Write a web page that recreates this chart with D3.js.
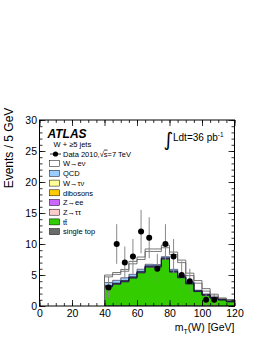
<!DOCTYPE html>
<html><head><meta charset="utf-8">
<script src="https://cdn.jsdelivr.net/npm/d3@7"></script>
<style>
html,body{margin:0;padding:0;background:#fff;}
svg{display:block;font-family:"Liberation Sans",Arial,Helvetica,sans-serif;}
</style></head>
<body>
<svg id="c" width="266" height="344"></svg>
<script>
// ---- data ----
const binLows = [40,45,50,55,60,65,70,75,80,85,90,95,100,105,110,115];
const binWidth = 5;
const dataCounts = [3,10,7,8,12,11,6,10,8,5,4,0,1,1,0,0];
const dataErr    = [1.7,3.2,2.6,2.8,3.5,3.3,2.4,3.2,2.8,2.2,2.0,0,1.0,1.0,0,0];
const singleTop = [0.05,0.05,0.05,0.05,0.05,0.05,0.05,0.05,0.05,0.05,0.05,0.03,0.03,0.02,0.02,0.02];
const ttbar     = [3.05,3.45,3.85,4.45,5.3,6.2,6.2,7.5,5.4,4.5,3.5,2.3,1.7,1.25,0.95,0.65];
const ztautau   = [0.03,0.03,0.03,0.03,0.03,0.03,0.03,0.03,0.03,0.03,0.03,0.02,0.02,0.02,0.02,0.02];
const zee       = [0.08,0.08,0.1,0.1,0.12,0.12,0.12,0.1,0.1,0.08,0.06,0.05,0.04,0.03,0.02,0.02];
const dibosons  = [0.03,0.03,0.03,0.03,0.03,0.03,0.03,0.03,0.03,0.03,0.03,0.02,0.02,0.02,0.02,0.02];
const wtaunu    = [0.05,0.05,0.05,0.05,0.05,0.05,0.05,0.05,0.05,0.05,0.05,0.03,0.03,0.02,0.02,0.02];
const qcd       = [0.5,0.45,0.45,0.4,0.35,0.25,0.2,0.2,0.25,0.2,0.15,0.1,0.1,0.05,0.05,0.05];
const wenu      = [0.91,0.96,1.04,1.69,1.57,2.07,2.12,1.44,2.39,2.06,1.03,1.13,0.46,0.19,0.05,0.1];
const mcTotal   = [5.0,5.4,5.9,7.2,7.9,9.2,9.2,9.8,8.7,7.4,5.3,4.1,2.8,1.9,1.3,1.05];
const xTicks = [0,20,40,60,80,100,120];
const yTicks = [0,5,10,15,20,25,30];

const seriesKeys   = ["singleTop","ttbar","ztautau","zee","dibosons","wtaunu","qcd","wenu"];
const seriesArrays = [singleTop, ttbar, ztautau, zee, dibosons, wtaunu, qcd, wenu];
const seriesColors = ["#6b6b6b","#33cc00","#ffcccc","#cc66ff","#ffcc00","#ffff99","#99ccff","#ffffff"];
const legendLabels = ["W\u2192e\u03bd","QCD","W\u2192\u03c4\u03bd","dibosons","Z\u2192ee","Z\u2192\u03c4\u03c4","tt\u0304","single top"];
const legendKeys   = ["wenu","qcd","wtaunu","dibosons","zee","ztautau","ttbar","singleTop"];

// ---- layout ----
const svg = d3.select("#c");
const L = 39.5, R = 234.5, T = 120, B = 306;
const x = d3.scaleLinear().domain([0,120]).range([L,R]);
const y = d3.scaleLinear().domain([0,30]).range([B,T]);

const table = binLows.map((b,i)=>{
  const o = {x:b};
  seriesKeys.forEach((k,j)=>o[k]=seriesArrays[j][i]);
  return o;
});
const stacked = d3.stack().keys(seriesKeys)(table);
const colorOf = Object.fromEntries(seriesKeys.map((k,i)=>[k,seriesColors[i]]));

const g = svg.append("g");
stacked.forEach(layer=>{
  const pts = layer.map(d=>({x:d.data.x, y0:d[0], y1:d[1]}));
  const last = pts[pts.length-1];
  pts.push({x:last.x+binWidth, y0:last.y0, y1:last.y1});
  const area = d3.area().curve(d3.curveStepAfter)
    .x(d=>x(d.x)).y0(d=>y(d.y0)).y1(d=>y(d.y1));
  g.append("path").attr("d",area(pts)).attr("fill",colorOf[layer.key]).attr("stroke","none");
});
stacked.forEach(layer=>{
  const pts = layer.map(d=>({x:d.data.x, v:d[1]}));
  const last = pts[pts.length-1];
  pts.push({x:last.x+binWidth, v:last.v});
  const line = d3.line().curve(d3.curveStepAfter).x(d=>x(d.x)).y(d=>y(d.v));
  const full = [{x:pts[0].x, v:0}].concat(pts).concat([{x:last.x+binWidth, v:0}]);
  g.append("path").attr("d",line(layer.key==="wenu"?full:pts)).attr("fill","none")
   .attr("stroke", layer.key==="wenu" ? "#222" : "#1a1a40").attr("stroke-width",0.6);
});
{
  const pts = binLows.map((b,i)=>({x:b, v:mcTotal[i]}));
  pts.push({x:binLows[binLows.length-1]+binWidth, v:mcTotal[mcTotal.length-1]});
  const full = [{x:binLows[0], v:0}].concat(pts).concat([{x:pts[pts.length-1].x, v:0}]);
  const line = d3.line().curve(d3.curveStepAfter).x(d=>x(d.x)).y(d=>y(d.v));
  g.append("path").attr("d",line(full)).attr("fill","none").attr("stroke","#666").attr("stroke-width",0.9);
}

// data points
const dg = svg.append("g");
binLows.forEach((b,i)=>{
  if(dataCounts[i]<=0) return;
  const cx = x(b+binWidth/2);
  dg.append("line").attr("x1",cx).attr("x2",cx)
    .attr("y1",y(dataCounts[i]-dataErr[i])).attr("y2",y(dataCounts[i]+dataErr[i]))
    .attr("stroke","#888").attr("stroke-width",1);
  dg.append("circle").attr("cx",cx).attr("cy",y(dataCounts[i])).attr("r",3).attr("fill","#000");
});

// axes
const fs = 10.5;
const xMinor = d3.range(0,121,5);
const yMinor = d3.range(0,31,1);
function styleAxis(sel){ sel.select(".domain").remove(); sel.selectAll("line").attr("stroke","#000").attr("stroke-width",0.8); }
svg.append("g").attr("transform",`translate(0,${B})`)
  .call(d3.axisBottom(x).tickValues(xMinor).tickSize(-3).tickFormat(""))
  .call(styleAxis);
svg.append("g").attr("transform",`translate(0,${B})`)
  .call(d3.axisBottom(x).tickValues(xTicks).tickSize(-6).tickPadding(4).tickFormat(d3.format("d")))
  .call(styleAxis)
  .call(s=>s.selectAll("text").attr("font-size",fs).attr("fill","#000").attr("font-family","Liberation Sans, Arial, sans-serif"));
svg.append("g").attr("transform",`translate(0,${T})`)
  .call(d3.axisTop(x).tickValues(xMinor).tickSize(-3).tickFormat("")).call(styleAxis);
svg.append("g").attr("transform",`translate(0,${T})`)
  .call(d3.axisTop(x).tickValues(xTicks).tickSize(-6).tickFormat("")).call(styleAxis);
svg.append("g").attr("transform",`translate(${L},0)`)
  .call(d3.axisLeft(y).tickValues(yMinor).tickSize(-3).tickFormat("")).call(styleAxis);
svg.append("g").attr("transform",`translate(${L},0)`)
  .call(d3.axisLeft(y).tickValues(yTicks).tickSize(-6).tickPadding(2.5).tickFormat(d3.format("d")))
  .call(styleAxis)
  .call(s=>s.selectAll("text").attr("font-size",fs).attr("fill","#000").attr("font-family","Liberation Sans, Arial, sans-serif"));
svg.append("g").attr("transform",`translate(${R},0)`)
  .call(d3.axisRight(y).tickValues(yMinor).tickSize(-3).tickFormat("")).call(styleAxis);
svg.append("g").attr("transform",`translate(${R},0)`)
  .call(d3.axisRight(y).tickValues(yTicks).tickSize(-6).tickFormat("")).call(styleAxis);
svg.append("rect").attr("x",L).attr("y",T).attr("width",R-L).attr("height",B-T)
  .attr("fill","none").attr("stroke","#000").attr("stroke-width",1);

// axis titles
svg.append("text").attr("transform",`translate(12.5,148) rotate(-90)`).attr("text-anchor","middle")
  .attr("font-size",12).text("Events / 5 GeV");
const xt = svg.append("text").attr("x",R).attr("y",331).attr("text-anchor","end").attr("font-size",fs);
xt.append("tspan").text("m");
xt.append("tspan").attr("font-size",7).attr("dy",2.5).text("T");
xt.append("tspan").attr("dy",-2.5).text("(W) [GeV]");

// ATLAS label etc.
svg.append("text").attr("x",47.5).attr("y",138).attr("font-size",12).attr("font-weight","bold")
  .attr("font-style","italic").text("ATLAS");
svg.append("text").attr("x",53.5).attr("y",147).attr("font-size",7.5).text("W + \u22655 jets");

// integral
svg.append("text").attr("x",163.5).attr("y",146).attr("font-size",19).attr("font-family","DejaVu Sans, sans-serif").text("\u222b");
const lt = svg.append("text").attr("x",173).attr("y",141).attr("font-size",10).text("Ldt=36 pb");
lt.append("tspan").attr("font-size",6.5).attr("dy",-4.5).text("-1");

// legend
const lg = svg.append("g").attr("font-size",7.5);
const ly0 = 154, ldy = 9.7;
lg.append("line").attr("x1",50).attr("x2",61).attr("y1",ly0).attr("y2",ly0).attr("stroke","#000").attr("stroke-width",0.8);
lg.append("circle").attr("cx",55.5).attr("cy",ly0).attr("r",2.6).attr("fill","#000");
const dt = lg.append("text").attr("x",63).attr("y",ly0+2.7);
dt.append("tspan").text("Data 2010,\u221a");
dt.append("tspan").attr("text-decoration","overline").text("s");
dt.append("tspan").text("=7 TeV");
legendKeys.forEach((k,i)=>{
  const yy = ly0 + ldy*(i+1);
  lg.append("rect").attr("x",49.5).attr("y",yy-3).attr("width",10).attr("height",6)
    .attr("fill",colorOf[k]).attr("stroke","#000").attr("stroke-width",0.5);
  lg.append("text").attr("x",63).attr("y",yy+2.7).text(legendLabels[i]);
});
</script>
</body></html>
